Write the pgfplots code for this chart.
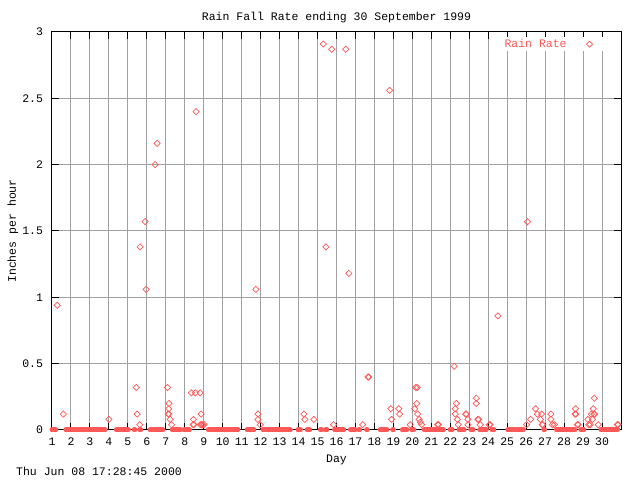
\documentclass[border=0pt]{standalone}
\usepackage{pgfplots}
\pgfplotsset{compat=1.18}
\usepackage{pgfplotstable}
\usepackage{fontspec}
\setmainfont{Liberation Mono}
\definecolor{rainred}{RGB}{255,88,88}
\definecolor{gridgray}{RGB}{160,160,160}

\pgfplotstableread{
day rate
1.28 0.94
1.60 0.12
4.00 0.08
5.44 0.32
5.49 0.12
5.63 0.04
5.65 1.38
5.91 1.57
5.96 1.06
6.44 2.00
6.54 2.16
7.09 0.32
7.17 0.20
7.15 0.16
7.13 0.12
7.16 0.12
7.23 0.08
7.30 0.04
8.35 0.28
8.56 0.28
8.81 0.28
8.46 0.08
8.44 0.04
8.48 0.04
8.60 2.40
8.86 0.12
8.82 0.04
8.88 0.04
8.95 0.04
9.02 0.04
11.75 1.06
11.86 0.12
11.86 0.08
11.98 0.04
14.28 0.12
14.33 0.08
14.81 0.08
15.30 2.91
15.44 1.38
15.75 2.87
15.84 0.04
16.49 2.87
16.65 1.18
17.38 0.04
17.66 0.40
17.70 0.40
18.80 2.56
18.86 0.16
18.91 0.08
19.28 0.16
19.33 0.12
19.89 0.04
20.18 0.32
20.26 0.32
20.23 0.20
20.12 0.16
20.28 0.12
20.36 0.08
20.42 0.06
20.49 0.04
21.33 0.04
21.38 0.04
22.21 0.48
22.32 0.20
22.26 0.16
22.26 0.12
22.37 0.08
22.42 0.04
22.81 0.12
22.85 0.12
22.93 0.08
22.93 0.04
23.37 0.24
23.37 0.20
23.45 0.08
23.49 0.08
23.58 0.04
24.05 0.04
24.10 0.04
24.51 0.86
26.02 0.04
26.07 1.57
26.23 0.08
26.49 0.16
26.59 0.12
26.81 0.12
26.75 0.08
26.84 0.04
26.88 0.04
27.30 0.12
27.30 0.08
27.38 0.04
27.49 0.04
28.60 0.16
28.58 0.12
28.62 0.12
28.70 0.04
28.74 0.04
29.25 0.08
29.30 0.04
29.38 0.04
29.44 0.12
29.54 0.16
29.59 0.24
29.57 0.12
29.61 0.12
29.49 0.08
29.80 0.04
30.81 0.04
30.85 0.04
}\raindata

\begin{document}
\fontsize{11.5bp}{13bp}\selectfont
\begin{tikzpicture}[x=1bp,y=1bp]
\begin{axis}[
  name=ax,
  scale only axis, width=569bp, height=398bp,
  xmin=1, xmax=31, ymin=0, ymax=3,
  xtick={1,...,30}, ytick={0,0.5,1,1.5,2,2.5,3},
  grid=major, major grid style={gridgray, line width=1bp},
  tick align=inside, major tick length=7bp,
  tick style={black, line width=1bp},
  axis line style={black, line width=1bp},
  /pgf/number format/assume math mode=true,
  xticklabel style={yshift=-4bp},
  yticklabel style={xshift=-5bp},
  title={Rain Fall Rate ending 30 September 1999},
  title style={at={(axis description cs:0.5,1.022)}, anchor=center},
  xlabel={Day},
  xlabel style={at={(axis description cs:0.5,-0.074)}, anchor=center},
  ylabel={Inches per hour},
  ylabel style={at={(axis description cs:-0.0685,0.5)}, anchor=center},
  clip=false,
  legend plot pos=right,
  legend image code/.code={%
    \path[draw=none, fill=none] (-21bp,-3bp) rectangle (13bp,3bp);
    \draw[#1] plot coordinates {(0bp,0bp)};},
  legend style={at={(axis description cs:0.968,0.9874)}, anchor=north east,
    draw=none, fill=white, inner sep=0bp, text=rainred,
    cells={anchor=east}},
]
\addplot[rainred, line width=5bp, line cap=round, unbounded coords=jump, forget plot]
coordinates {
(1.00,0) (1.20,0) (1.3,nan)
(1.73,0) (3.80,0) (4.0,nan)
(4.39,0) (5.03,0) (5.2,nan)
(5.33,0) (5.37,0) (5.5,nan)
(5.63,0) (5.68,0) (5.9,nan)
(6.17,0) (6.85,0) (7.0,nan)
(7.34,0) (7.78,0) (7.9,nan)
(7.96,0) (8.25,0) (8.5,nan)
(9.24,0) (10.80,0) (11.0,nan)
(11.29,0) (11.64,0) (11.9,nan)
(12.12,0) (13.57,0) (13.8,nan)
(13.97,0) (14.10,0) (14.3,nan)
(14.45,0) (14.59,0) (14.8,nan)
(15.15,0) (15.22,0) (15.3,nan)
(15.42,0) (15.50,0) (15.7,nan)
(15.90,0) (16.38,0) (16.5,nan)
(16.73,0) (16.99,0) (17.1,nan)
(17.18,0) (17.22,0) (17.4,nan)
(17.58,0) (17.62,0) (17.9,nan)
(18.30,0) (18.66,0) (18.8,nan)
(18.96,0) (19.00,0) (19.2,nan)
(19.47,0) (19.71,0) (19.9,nan)
(19.98,0) (20.07,0) (20.3,nan)
(20.62,0) (21.64,0) (21.8,nan)
(21.99,0) (22.10,0) (22.3,nan)
(22.46,0) (22.73,0) (22.9,nan)
(23.08,0) (23.20,0) (23.4,nan)
(23.55,0) (23.90,0) (24.1,nan)
(24.20,0) (24.30,0) (24.6,nan)
(25.03,0) (25.85,0) (26.5,nan)
(26.93,0) (26.97,0) (27.2,nan)
(27.60,0) (28.57,0) (28.7,nan)
(28.88,0) (29.04,0) (29.5,nan)
(29.94,0) (30.82,0)
};
\addplot[only marks, mark=square, mark size=2.2bp, rainred,
  mark options={rotate=45, line width=0.7bp}] table[x=day, y=rate] {\raindata};
\legend{Rain Rate}
\end{axis}
\path (ax.south west) ++(-36,-46) node[anchor=base west, inner sep=0pt] {Thu Jun 08 17:28:45 2000};
\pgfresetboundingbox
\path[use as bounding box] (ax.south west) ++(-52,-50) rectangle ++(640,480);
\end{tikzpicture}
\end{document}
